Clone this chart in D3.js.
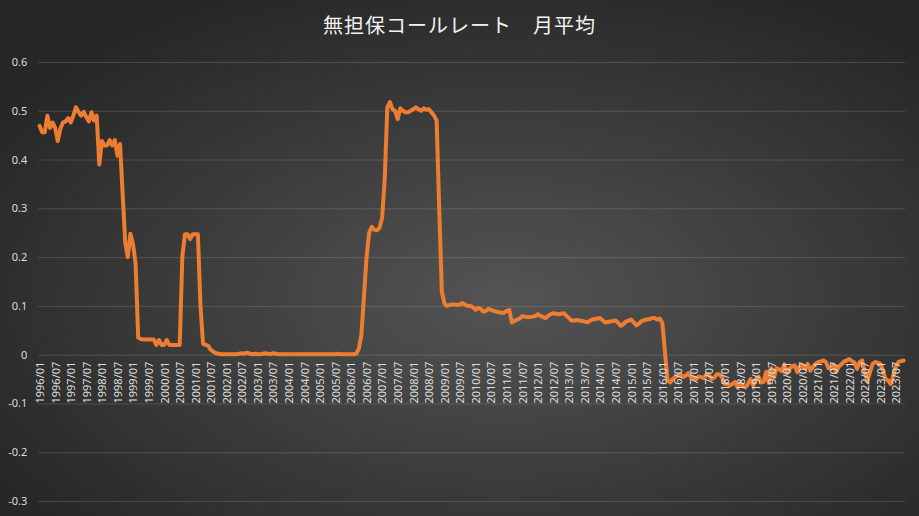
<!DOCTYPE html>
<html>
<head>
<meta charset="utf-8">
<script src="https://cdn.jsdelivr.net/npm/d3@7"></script>
<style>
    body { margin: 0; background: #2b2b2b; }
    #chart { width: 919px; height: 516px; }
    .axis-label { font-family: "Noto Sans", "DejaVu Sans", sans-serif; font-size: 11px; fill: #dddddd; }
    .chart-title { font-family: "Noto Sans CJK JP", sans-serif; font-size: 20px; fill: #f2f2f2; letter-spacing: 1px; }
</style>
</head>
<body>
<div id="chart"></div>
<script>

// monthly average, uncollateralized overnight call rate (%)
const years = [1996, 1997, 1998, 1999, 2000, 2001, 2002, 2003, 2004, 2005, 2006, 2007, 2008, 2009,
    2010, 2011, 2012, 2013, 2014, 2015, 2016, 2017, 2018, 2019, 2020, 2021, 2022, 2023];

const rate1996 = [0.469, 0.456, 0.456, 0.490, 0.465, 0.476, 0.465, 0.438, 0.463, 0.476, 0.478, 0.485];
const rate1997 = [0.476, 0.490, 0.507, 0.498, 0.490, 0.498, 0.487, 0.478, 0.497, 0.480, 0.490, 0.390];
const rate1998 = [0.438, 0.429, 0.429, 0.440, 0.429, 0.440, 0.408, 0.432, 0.330, 0.230, 0.200, 0.248];
const rate1999 = [0.227, 0.186, 0.035, 0.032, 0.031, 0.031, 0.031, 0.031, 0.031, 0.020, 0.030, 0.020];
const rate2000 = [0.020, 0.030, 0.020, 0.020, 0.020, 0.020, 0.020, 0.200, 0.247, 0.247, 0.237, 0.247];
const rate2001 = [0.247, 0.247, 0.100, 0.022, 0.020, 0.018, 0.010, 0.006, 0.003, 0.002, 0.001, 0.001];
const rate2002 = [0.001, 0.001, 0.001, 0.001, 0.001, 0.002, 0.003, 0.002, 0.004, 0.002, 0.001, 0.002];
const rate2003 = [0.001, 0.001, 0.002, 0.003, 0.002, 0.001, 0.003, 0.002, 0.001, 0.001, 0.001, 0.001];
const rate2004 = [0.001, 0.001, 0.001, 0.001, 0.001, 0.001, 0.001, 0.001, 0.001, 0.001, 0.001, 0.001];
const rate2005 = [0.001, 0.001, 0.001, 0.001, 0.001, 0.001, 0.001, 0.002, 0.001, 0.001, 0.001, 0.001];
const rate2006 = [0.001, 0.001, 0.002, 0.012, 0.040, 0.120, 0.200, 0.250, 0.262, 0.256, 0.255, 0.260];
const rate2007 = [0.280, 0.360, 0.507, 0.518, 0.503, 0.500, 0.483, 0.505, 0.500, 0.497, 0.497, 0.500];
const rate2008 = [0.503, 0.507, 0.503, 0.500, 0.505, 0.502, 0.503, 0.497, 0.490, 0.480, 0.300, 0.130];
const rate2009 = [0.105, 0.100, 0.102, 0.103, 0.103, 0.102, 0.103, 0.106, 0.102, 0.100, 0.100, 0.097];
const rate2010 = [0.092, 0.096, 0.094, 0.088, 0.090, 0.094, 0.092, 0.090, 0.088, 0.087, 0.086, 0.086];
const rate2011 = [0.090, 0.092, 0.066, 0.069, 0.072, 0.074, 0.079, 0.078, 0.077, 0.077, 0.078, 0.079];
const rate2012 = [0.083, 0.080, 0.077, 0.075, 0.080, 0.083, 0.085, 0.084, 0.083, 0.084, 0.085, 0.080];
const rate2013 = [0.075, 0.070, 0.070, 0.071, 0.070, 0.069, 0.068, 0.066, 0.069, 0.072, 0.073, 0.074];
const rate2014 = [0.075, 0.070, 0.066, 0.067, 0.068, 0.069, 0.070, 0.065, 0.059, 0.063, 0.068, 0.070];
const rate2015 = [0.072, 0.066, 0.060, 0.064, 0.069, 0.071, 0.072, 0.073, 0.075, 0.075, 0.072, 0.074];
const rate2016 = [0.065, 0.005, -0.053, -0.057, -0.050, -0.046, -0.043, -0.040, -0.046, -0.043, -0.038, -0.046];
const rate2017 = [-0.048, -0.050, -0.045, -0.046, -0.048, -0.040, -0.042, -0.050, -0.047, -0.040, -0.040, -0.046];
const rate2018 = [-0.060, -0.060, -0.063, -0.060, -0.056, -0.067, -0.058, -0.064, -0.067, -0.060, -0.050, -0.063];
const rate2019 = [-0.050, -0.045, -0.057, -0.056, -0.035, -0.058, -0.028, -0.046, -0.028, -0.030, -0.034, -0.020];
const rate2020 = [-0.038, -0.029, -0.024, -0.022, -0.036, -0.024, -0.022, -0.029, -0.019, -0.033, -0.025, -0.019];
const rate2021 = [-0.015, -0.014, -0.012, -0.015, -0.028, -0.029, -0.020, -0.035, -0.024, -0.020, -0.014, -0.012];
const rate2022 = [-0.009, -0.013, -0.016, -0.029, -0.015, -0.012, -0.036, -0.055, -0.036, -0.019, -0.015, -0.017];
const rate2023 = [-0.019, -0.032, -0.050, -0.053, -0.060, -0.043, -0.023, -0.015, -0.013, -0.012];

const yearlyRates = [rate1996, rate1997, rate1998, rate1999, rate2000, rate2001, rate2002, rate2003,
    rate2004, rate2005, rate2006, rate2007, rate2008, rate2009, rate2010, rate2011, rate2012, rate2013,
    rate2014, rate2015, rate2016, rate2017, rate2018, rate2019, rate2020, rate2021, rate2022, rate2023];

const yTicks = [0.6, 0.5, 0.4, 0.3, 0.2, 0.1, 0, -0.1, -0.2, -0.3];

const chartTitle = "無担保コールレート　月平均";


class CallRateChart {

    constructor(parentElement) {
        this.parentElement = parentElement;
        this.initVis();
    }

    initVis() {
        let vis = this;

        vis.margin = {top: 62, right: 14, bottom: 15, left: 38.3};
        vis.width = 919 - vis.margin.left - vis.margin.right;
        vis.height = 516 - vis.margin.top - vis.margin.bottom;

        vis.root = d3.select("#" + vis.parentElement).append("svg")
            .attr("width", 919)
            .attr("height", 516);

        // dark background, lighter toward the middle
        let grad = vis.root.append("defs").append("radialGradient")
            .attr("id", "bg")
            .attr("cx", "55%").attr("cy", "58%").attr("r", "65%");
        grad.append("stop").attr("offset", "0%").attr("stop-color", "#545454");
        grad.append("stop").attr("offset", "100%").attr("stop-color", "#272727");

        vis.root.append("rect")
            .attr("width", 919)
            .attr("height", 516)
            .attr("fill", "url(#bg)");

        vis.root.append("text")
            .attr("class", "chart-title")
            .attr("x", 459.5)
            .attr("y", 33)
            .attr("text-anchor", "middle")
            .text(chartTitle);

        vis.svg = vis.root.append("g")
            .attr("transform", "translate(" + vis.margin.left + "," + vis.margin.top + ")");

        vis.wrangleData();
    }

    wrangleData() {
        let vis = this;

        vis.displayData = [];
        years.forEach((yr, k) => {
            yearlyRates[k].forEach((v, m) => {
                vis.displayData.push({month: yr + "/" + String(m + 1).padStart(2, "0"), value: v});
            });
        });

        vis.updateVis();
    }

    updateVis() {
        let vis = this;

        vis.x = d3.scalePoint()
            .domain(vis.displayData.map(d => d.month))
            .range([0, vis.width])
            .padding(0.5);

        vis.y = d3.scaleLinear()
            .domain([-0.3, 0.6])
            .range([vis.height, 0]);

        // gridlines + y labels
        vis.yAxis = d3.axisLeft(vis.y)
            .tickValues(yTicks)
            .tickSize(-vis.width)
            .tickPadding(11)
            .tickFormat(d => String(+d.toFixed(1)));

        let yg = vis.svg.append("g").call(vis.yAxis);
        yg.attr("font-family", null).attr("font-size", null);
        yg.select(".domain").remove();
        yg.selectAll("line")
            .attr("stroke", "#ffffff")
            .attr("stroke-opacity", 0.14);
        yg.selectAll("text")
            .attr("class", "axis-label")
            .attr("fill", null);

        // the series
        vis.line = d3.line()
            .x(d => vis.x(d.month))
            .y(d => vis.y(d.value));

        vis.svg.append("path")
            .datum(vis.displayData)
            .attr("fill", "none")
            .attr("stroke", "#ED7D31")
            .attr("stroke-width", 4)
            .attr("stroke-linejoin", "round")
            .attr("stroke-linecap", "round")
            .attr("d", vis.line);

        // category labels every six months, rotated, hanging under the zero line
        vis.xAxis = d3.axisBottom(vis.x)
            .tickValues(vis.x.domain().filter((d, i) => i % 6 === 0))
            .tickSize(0);

        let xg = vis.svg.append("g")
            .attr("transform", "translate(0," + vis.y(0) + ")")
            .call(vis.xAxis);
        xg.attr("font-family", null).attr("font-size", null);
        xg.select(".domain").remove();
        xg.selectAll("text")
            .attr("class", "axis-label")
            .attr("fill", null)
            .attr("transform", "rotate(-90)")
            .attr("text-anchor", "end")
            .attr("x", -7)
            .attr("y", 0)
            .attr("dy", "0.35em");
    }
}

new CallRateChart("chart");

</script>
</body>
</html>
